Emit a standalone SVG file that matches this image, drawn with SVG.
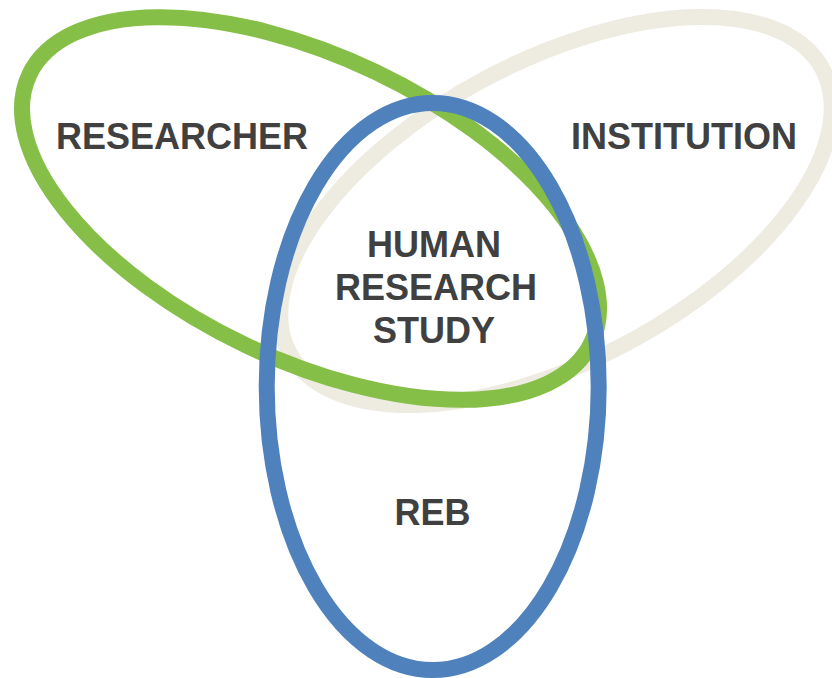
<svg xmlns="http://www.w3.org/2000/svg" width="832" height="678" viewBox="0 0 832 678">
<style>
.ring{fill:none;stroke-width:16}
.lbl{font-family:"Liberation Sans",Arial,sans-serif;font-weight:bold;font-size:36px;fill:#404040;text-anchor:middle}
</style>
<rect width="832" height="678" fill="#ffffff"/>
<g id="institution">
<ellipse class="ring" cx="556" cy="211" rx="302" ry="150" transform="rotate(-28 556 211)" stroke="#EEEBE1"/>
<text class="lbl" x="684" y="149">INSTITUTION</text>
</g>
<g id="researcher">
<ellipse class="ring" cx="310.5" cy="208.5" rx="311.4" ry="151.3" transform="rotate(25.5 310.5 208.5)" stroke="#86BF47"/>
<text class="lbl" x="182" y="149">RESEARCHER</text>
</g>
<g id="reb">
<ellipse class="ring" cx="432.7" cy="386.5" rx="166" ry="283.5" stroke="#4F81BD"/>
<text class="lbl" x="432.5" y="525">REB</text>
</g>
<g id="study">
<text class="lbl" x="434" y="257">HUMAN</text>
<text class="lbl" x="436" y="300">RESEARCH</text>
<text class="lbl" x="434" y="343">STUDY</text>
</g>
<g id="connectors"/>
</svg>
